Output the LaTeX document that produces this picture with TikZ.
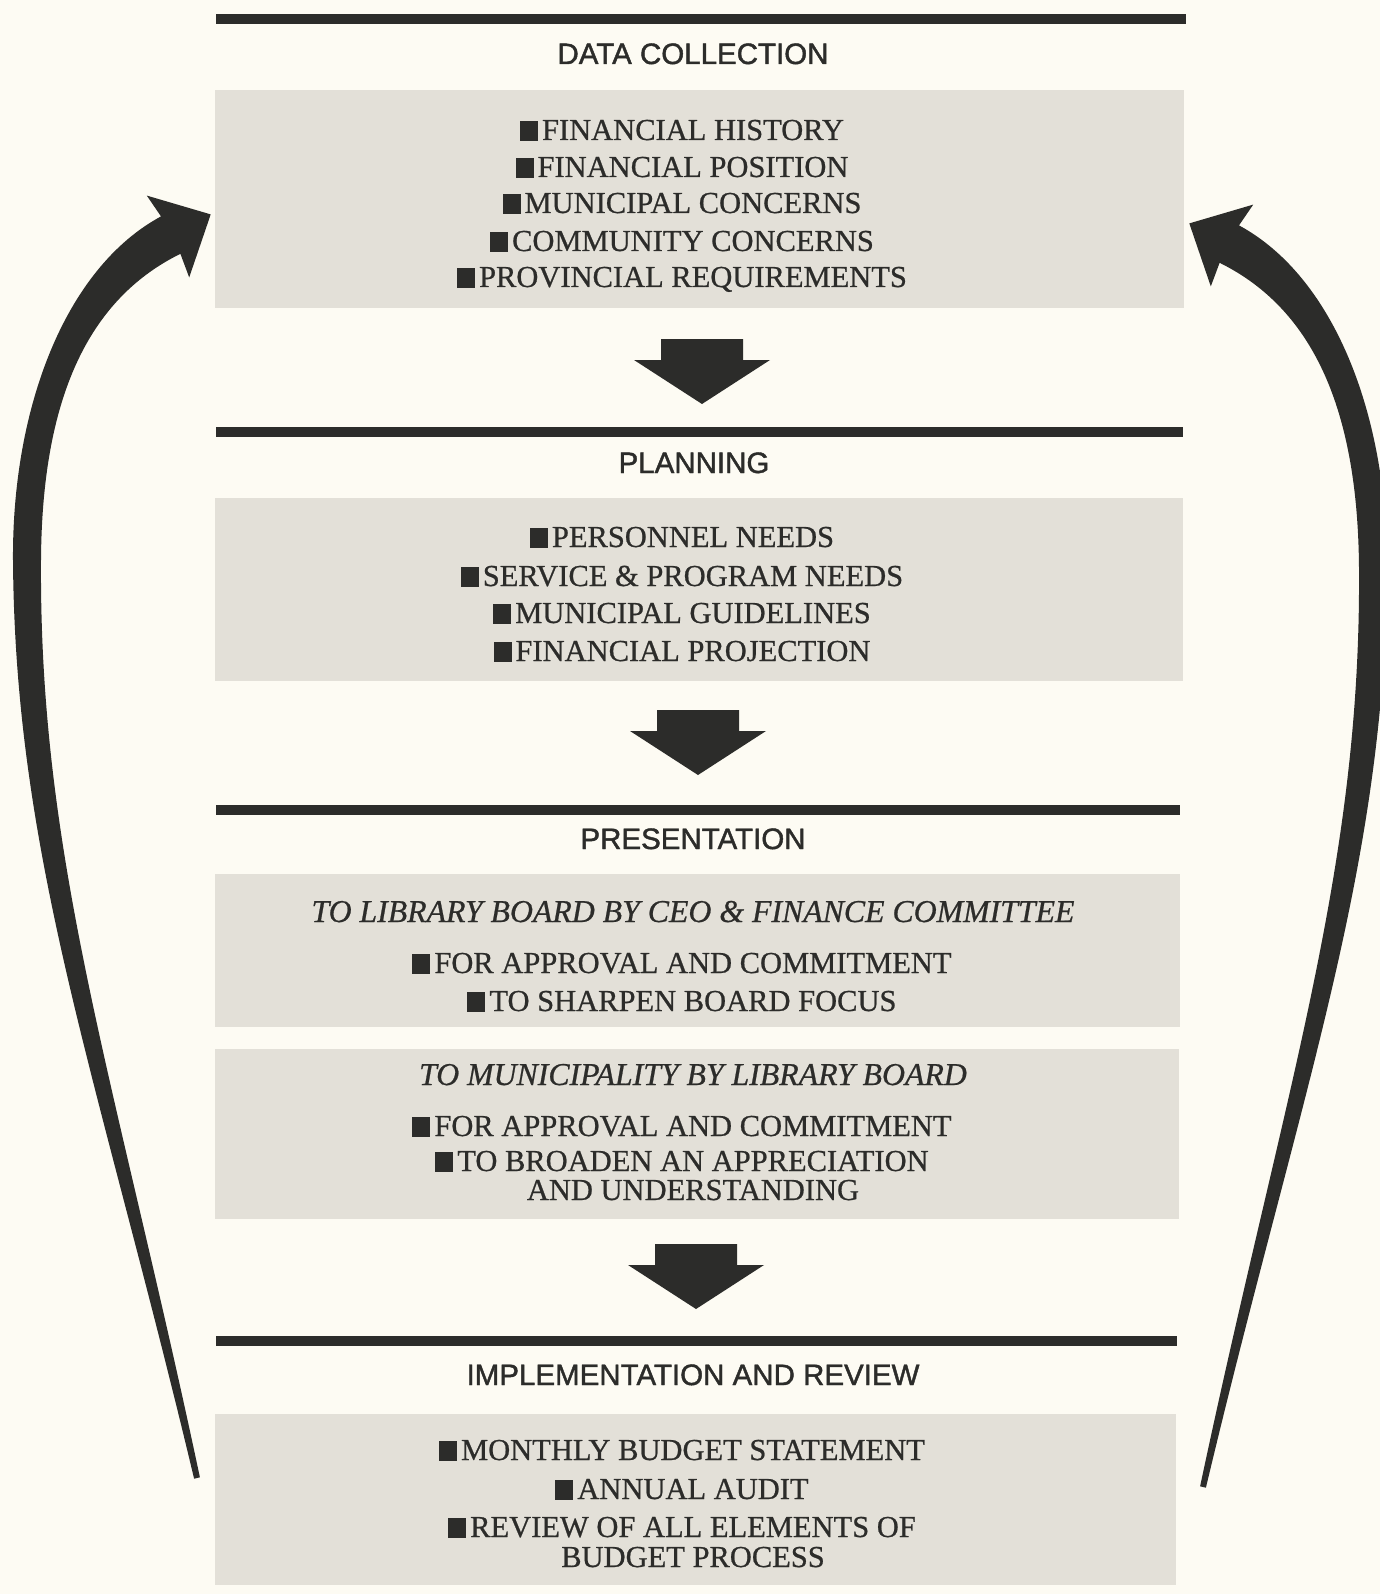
\documentclass[tikz,border=0pt]{standalone}
\usepackage{fontspec}
\setmainfont{Liberation Serif}[FakeBold=0.7]
\setsansfont{Liberation Sans}[FakeBold=1.4]
\definecolor{bgc}{RGB}{253,251,243}
\definecolor{boxc}{RGB}{227,224,216}
\definecolor{ink}{RGB}{44,44,42}
\newcommand{\bsq}{\llap{\rule[-1pt]{18pt}{20pt}\hspace{4pt}}}
\newcommand{\loopshape}{(194.1,1478.7) .. controls (99.2,1079.8) and (15,860) .. (13,560)
      .. controls (12,410) and (64.1,268.8) .. (161.0,216.4)
      -- (146.8,195.6) -- (210.7,214.4) -- (189.2,277.4) -- (180.4,253.8)
      .. controls (81.5,302.6) and (42,410) .. (41,560)
      .. controls (39,860) and (114.8,1076.2) .. (199.9,1477.3) -- cycle}
\tikzset{
  panel/.style={fill=boxc, draw=none, inner sep=0pt, anchor=north west},
  bar/.style={draw=ink, line width=10pt},
  heading/.style={font=\fontsize{29.5}{32}\selectfont\sffamily, text=ink, anchor=base, inner sep=0pt},
  itm/.style={font=\fontsize{30.5}{34}\selectfont, text=ink, anchor=base, inner sep=0pt},
  ititm/.style={font=\fontsize{31.8}{34}\selectfont\itshape, text=ink, anchor=base, inner sep=0pt},
  downarrow/.pic={\fill[ink] (-41,0) -- (41,0) -- (41,21) -- (68,21) -- (0,65) -- (-68,21) -- (-41,21) -- cycle;}
}
\begin{document}
\begin{tikzpicture}[x=1pt,y=-1pt]
\useasboundingbox (0,0) rectangle (1380,1594);
\clip (0,0) rectangle (1380,1594);
\fill[bgc] (0,0) rectangle (1380,1594);

% panels
\node[panel, minimum width=969pt, minimum height=218pt] (p1) at (215,90) {};
\node[panel, minimum width=968pt, minimum height=183pt] (p2) at (215,498) {};
\node[panel, minimum width=965pt, minimum height=153pt] (p3a) at (215,874) {};
\node[panel, minimum width=964pt, minimum height=170pt] (p3b) at (215,1049) {};
\node[panel, minimum width=961pt, minimum height=171pt] (p4) at (215,1414) {};

% bars
\draw[bar] (216,19) -- (1186,19);
\draw[bar] (216,432) -- (1183,432);
\draw[bar] (216,810) -- (1180,810);
\draw[bar] (216,1341) -- (1177,1341);

% headings
\node[heading] (h1) at (693,64) {DATA COLLECTION};
\node[heading] (h2) at (694,473) {PLANNING};
\node[heading] (h3) at (693,849) {PRESENTATION};
\node[heading] (h4) at (693,1385) {IMPLEMENTATION AND REVIEW};

% data collection
\node[itm] (a1) at (693,140) {\bsq FINANCIAL HISTORY};
\node[itm] (a2) at (693,177) {\bsq FINANCIAL POSITION};
\node[itm] (a3) at (693,213) {\bsq MUNICIPAL CONCERNS};
\node[itm] (a4) at (693,251) {\bsq COMMUNITY CONCERNS};
\node[itm] (a5) at (693,287) {\bsq PROVINCIAL REQUIREMENTS};

% planning
\node[itm] (b1) at (693,547) {\bsq PERSONNEL NEEDS};
\node[itm] (b2) at (693,586) {\bsq SERVICE \& PROGRAM NEEDS};
\node[itm] (b3) at (693,623) {\bsq MUNICIPAL GUIDELINES};
\node[itm] (b4) at (693,661) {\bsq FINANCIAL PROJECTION};

% presentation
\node[ititm] (c0) at (693,922) {TO LIBRARY BOARD BY CEO \& FINANCE COMMITTEE};
\node[itm] (c1) at (693,973) {\bsq FOR APPROVAL AND COMMITMENT};
\node[itm] (c2) at (693,1011) {\bsq TO SHARPEN BOARD FOCUS};
\node[ititm] (d0) at (693,1085) {TO MUNICIPALITY BY LIBRARY BOARD};
\node[itm] (d1) at (693,1136) {\bsq FOR APPROVAL AND COMMITMENT};
\node[itm] (d2) at (693,1171) {\bsq TO BROADEN AN APPRECIATION};
\node[itm] (d3) at (693,1200) {AND UNDERSTANDING};

% implementation
\node[itm] (e1) at (693,1460) {\bsq MONTHLY BUDGET STATEMENT};
\node[itm] (e2) at (693,1499) {\bsq ANNUAL AUDIT};
\node[itm] (e3) at (693,1537) {\bsq REVIEW OF ALL ELEMENTS OF};
\node[itm] (e4) at (693,1567) {BUDGET PROCESS};

% block arrows between stages
\coordinate (arr1) at (702,339);
\coordinate (arr2) at (698,710);
\coordinate (arr3) at (696,1244);
\pic at (arr1) {downarrow};
\pic at (arr2) {downarrow};
\pic at (arr3) {downarrow};

% feedback arrows from review back to data collection
\coordinate (loopR) at (1400,9);
\fill[ink] \loopshape;
\begin{scope}[shift={(loopR)}, xscale=-1]
\fill[ink] \loopshape;
\end{scope}
\end{tikzpicture}
\end{document}
